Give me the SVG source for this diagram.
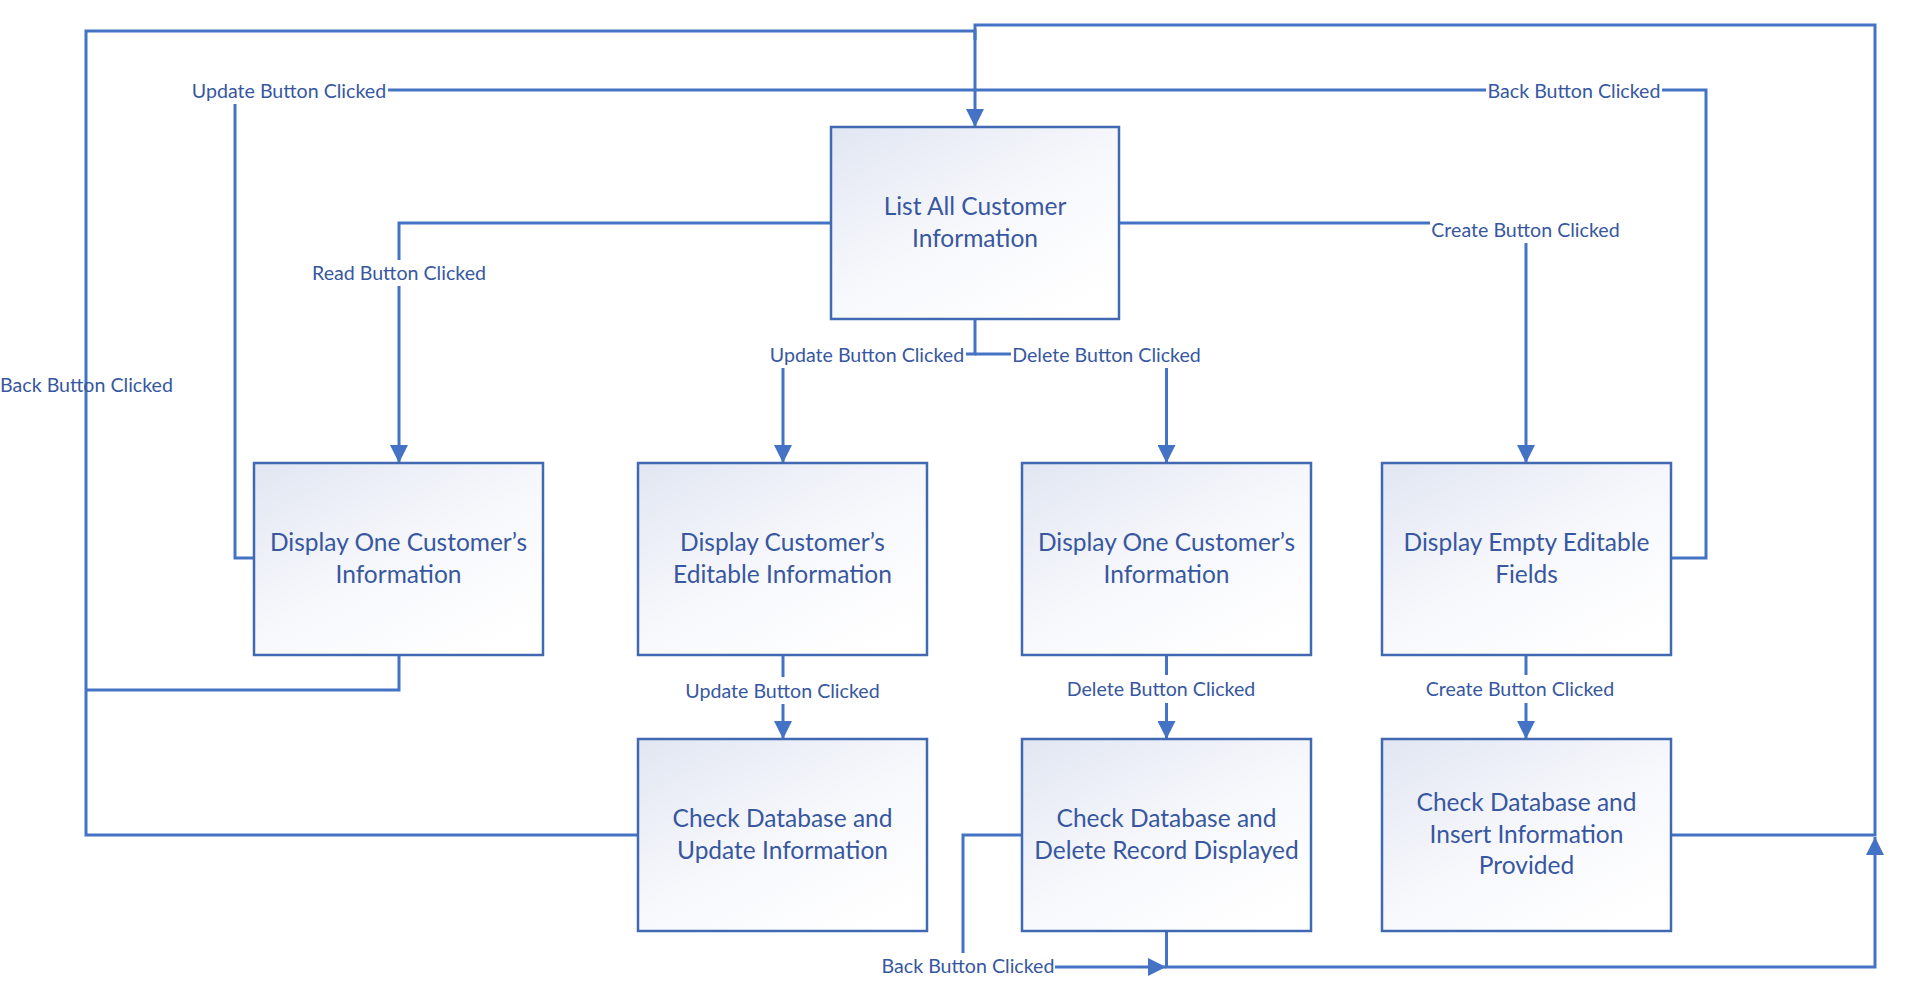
<svg xmlns="http://www.w3.org/2000/svg" width="1907" height="984" viewBox="0 0 1907 984">
<defs>
<linearGradient id="boxfill" x1="0" y1="0" x2="0.8" y2="1">
<stop offset="0" stop-color="#E1E6F2"/>
<stop offset="0.55" stop-color="#F7F8FC"/>
<stop offset="1" stop-color="#FFFFFF"/>
</linearGradient>
<marker id="arr" viewBox="0 0 18 18" markerWidth="18" markerHeight="18" refX="18" refY="9" orient="auto" markerUnits="userSpaceOnUse">
<path d="M0,0 L18,9 L0,18 z" fill="#4472C4"/>
</marker>
<style>
.c{fill:none;stroke:#4472C4;stroke-width:3;stroke-linejoin:miter}
.a{marker-end:url(#arr)}
.lb{fill:#FFFFFF}
.lt{font-family:Lato,"Liberation Sans",sans-serif;font-size:19.6px;fill:#3757A0;text-anchor:middle}
.box{fill:url(#boxfill);stroke:#4169B2;stroke-width:2.5}
.nt{font-family:Lato,"Liberation Sans",sans-serif;font-size:24.5px;fill:#3757A0;text-anchor:middle}
</style>
</defs>
<rect width="1907" height="984" fill="#FFFFFF"/>
<g id="connectors">
<path class="c a" d="M831,223 H399 V463"/>
<path class="c a" d="M975,319 V354 H783 V463"/>
<path class="c a" d="M975,354 H1166.5 V463"/>
<path class="c a" d="M1119,223 H1526 V463"/>
<path class="c" d="M1671,558 H1706 V90 H235 V558 H254"/>
<path class="c" d="M399,655 V690 H86"/>
<path class="c a" d="M638,835 H86 V31 H975 V127"/>
<path class="c a" d="M783,655 V739"/>
<path class="c a" d="M1166.5,655 V739"/>
<path class="c a" d="M1526,655 V739"/>
<path class="c a" d="M1022,835 H963 V967 H1166"/>
<path class="c a" d="M1166.5,931 V967 H1875 V837"/>
<path class="c" d="M1671,835 H1875 V25 H975 V40"/>
<g id="labels">
<rect class="lb" x="190" y="80" width="198" height="24"/>
<text class="lt" x="289" y="97.5">Update Button Clicked</text>
<rect class="lb" x="1486" y="80" width="176" height="24"/>
<text class="lt" x="1574" y="97.5">Back Button Clicked</text>
<rect class="lb" x="310" y="260" width="178" height="26"/>
<text class="lt" x="399" y="280">Read Button Clicked</text>
<rect class="lb" x="1430" y="219" width="192" height="24"/>
<text class="lt" x="1525.5" y="236.5">Create Button Clicked</text>
<text class="lt" x="86.5" y="391.5">Back Button Clicked</text>
<rect class="lb" x="768" y="343" width="198" height="25"/>
<text class="lt" x="867" y="361.5">Update Button Clicked</text>
<rect class="lb" x="1011" y="343" width="191" height="25"/>
<text class="lt" x="1106.5" y="361.5">Delete Button Clicked</text>
<rect class="lb" x="684" y="677" width="197" height="27"/>
<text class="lt" x="782.5" y="697.5">Update Button Clicked</text>
<rect class="lb" x="1066" y="675" width="190" height="28"/>
<text class="lt" x="1161" y="696">Delete Button Clicked</text>
<rect class="lb" x="1425" y="675" width="191" height="28"/>
<text class="lt" x="1520" y="695.5">Create Button Clicked</text>
<rect class="lb" x="881" y="953" width="174" height="26"/>
<text class="lt" x="968" y="973">Back Button Clicked</text>
</g>
</g>
<g id="list-all">
<rect class="box" x="831" y="127" width="288" height="192"/>
<text class="nt" x="975" y="215">List All Customer</text>
<text class="nt" x="975" y="246.5">Information</text>
</g>
<g id="display-one-read">
<rect class="box" x="254" y="463" width="289" height="192"/>
<text class="nt" x="398.5" y="551">Display One Customer’s</text>
<text class="nt" x="398.5" y="582.5">Information</text>
</g>
<g id="display-editable">
<rect class="box" x="638" y="463" width="289" height="192"/>
<text class="nt" x="782.5" y="551">Display Customer’s</text>
<text class="nt" x="782.5" y="582.5">Editable Information</text>
</g>
<g id="display-one-delete">
<rect class="box" x="1022" y="463" width="289" height="192"/>
<text class="nt" x="1166.5" y="551">Display One Customer’s</text>
<text class="nt" x="1166.5" y="582.5">Information</text>
</g>
<g id="display-empty">
<rect class="box" x="1382" y="463" width="289" height="192"/>
<text class="nt" x="1526.5" y="551">Display Empty Editable</text>
<text class="nt" x="1526.5" y="582.5">Fields</text>
</g>
<g id="check-update">
<rect class="box" x="638" y="739" width="289" height="192"/>
<text class="nt" x="782.5" y="827">Check Database and</text>
<text class="nt" x="782.5" y="858.5">Update Information</text>
</g>
<g id="check-delete">
<rect class="box" x="1022" y="739" width="289" height="192"/>
<text class="nt" x="1166.5" y="827">Check Database and</text>
<text class="nt" x="1166.5" y="858.5">Delete Record Displayed</text>
</g>
<g id="check-insert">
<rect class="box" x="1382" y="739" width="289" height="192"/>
<text class="nt" x="1526.5" y="811">Check Database and</text>
<text class="nt" x="1526.5" y="842.5">Insert Information</text>
<text class="nt" x="1526.5" y="874">Provided</text>
</g>
</svg>
